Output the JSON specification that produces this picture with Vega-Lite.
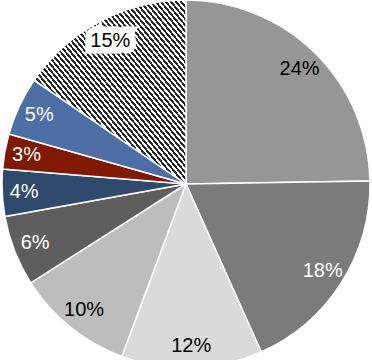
{
  "$schema": "https://vega.github.io/schema/vega-lite/v6.json",
  "width": 372,
  "height": 368,
  "padding": 0,
  "autosize": {"type": "none"},
  "background": "white",
  "config": {"view": {"stroke": null}},
  "data": {
    "values": [
      {"idx": 1, "slice": "a", "share": 24, "label": "24%"},
      {"idx": 2, "slice": "b", "share": 18, "label": "18%"},
      {"idx": 3, "slice": "c", "share": 12, "label": "12%"},
      {"idx": 4, "slice": "d", "share": 10, "label": "10%"},
      {"idx": 5, "slice": "e", "share": 6, "label": "6%"},
      {"idx": 6, "slice": "f", "share": 4, "label": "4%"},
      {"idx": 7, "slice": "g", "share": 3, "label": "3%"},
      {"idx": 8, "slice": "h", "share": 5, "label": "5%"},
      {"idx": 9, "slice": "i", "share": 15, "label": "15%"}
    ]
  },
  "encoding": {
    "theta": {"field": "share", "type": "quantitative", "stack": true},
    "order": {"field": "idx", "type": "quantitative"}
  },
  "layer": [
    {
      "mark": {"type": "arc", "outerRadius": 184, "stroke": "white", "strokeWidth": 1.5},
      "encoding": {
        "fill": {
          "condition": {
            "test": "datum.slice === 'i'",
            "value": {
              "gradient": "linear", "x1": 0, "y1": 1, "x2": 1, "y2": 0,
              "stops": [
                {"offset": 0, "color": "#ffffff"}, {"offset": 0.0083, "color": "#ffffff"}, {"offset": 0.0083, "color": "#262626"}, {"offset": 0.0167, "color": "#262626"},
                {"offset": 0.0167, "color": "#ffffff"}, {"offset": 0.025, "color": "#ffffff"}, {"offset": 0.025, "color": "#262626"}, {"offset": 0.0333, "color": "#262626"},
                {"offset": 0.0333, "color": "#ffffff"}, {"offset": 0.0417, "color": "#ffffff"}, {"offset": 0.0417, "color": "#262626"}, {"offset": 0.05, "color": "#262626"},
                {"offset": 0.05, "color": "#ffffff"}, {"offset": 0.0583, "color": "#ffffff"}, {"offset": 0.0583, "color": "#262626"}, {"offset": 0.0667, "color": "#262626"},
                {"offset": 0.0667, "color": "#ffffff"}, {"offset": 0.075, "color": "#ffffff"}, {"offset": 0.075, "color": "#262626"}, {"offset": 0.0833, "color": "#262626"},
                {"offset": 0.0833, "color": "#ffffff"}, {"offset": 0.0917, "color": "#ffffff"}, {"offset": 0.0917, "color": "#262626"}, {"offset": 0.1, "color": "#262626"},
                {"offset": 0.1, "color": "#ffffff"}, {"offset": 0.1083, "color": "#ffffff"}, {"offset": 0.1083, "color": "#262626"}, {"offset": 0.1167, "color": "#262626"},
                {"offset": 0.1167, "color": "#ffffff"}, {"offset": 0.125, "color": "#ffffff"}, {"offset": 0.125, "color": "#262626"}, {"offset": 0.1333, "color": "#262626"},
                {"offset": 0.1333, "color": "#ffffff"}, {"offset": 0.1417, "color": "#ffffff"}, {"offset": 0.1417, "color": "#262626"}, {"offset": 0.15, "color": "#262626"},
                {"offset": 0.15, "color": "#ffffff"}, {"offset": 0.1583, "color": "#ffffff"}, {"offset": 0.1583, "color": "#262626"}, {"offset": 0.1667, "color": "#262626"},
                {"offset": 0.1667, "color": "#ffffff"}, {"offset": 0.175, "color": "#ffffff"}, {"offset": 0.175, "color": "#262626"}, {"offset": 0.1833, "color": "#262626"},
                {"offset": 0.1833, "color": "#ffffff"}, {"offset": 0.1917, "color": "#ffffff"}, {"offset": 0.1917, "color": "#262626"}, {"offset": 0.2, "color": "#262626"},
                {"offset": 0.2, "color": "#ffffff"}, {"offset": 0.2083, "color": "#ffffff"}, {"offset": 0.2083, "color": "#262626"}, {"offset": 0.2167, "color": "#262626"},
                {"offset": 0.2167, "color": "#ffffff"}, {"offset": 0.225, "color": "#ffffff"}, {"offset": 0.225, "color": "#262626"}, {"offset": 0.2333, "color": "#262626"},
                {"offset": 0.2333, "color": "#ffffff"}, {"offset": 0.2417, "color": "#ffffff"}, {"offset": 0.2417, "color": "#262626"}, {"offset": 0.25, "color": "#262626"},
                {"offset": 0.25, "color": "#ffffff"}, {"offset": 0.2583, "color": "#ffffff"}, {"offset": 0.2583, "color": "#262626"}, {"offset": 0.2667, "color": "#262626"},
                {"offset": 0.2667, "color": "#ffffff"}, {"offset": 0.275, "color": "#ffffff"}, {"offset": 0.275, "color": "#262626"}, {"offset": 0.2833, "color": "#262626"},
                {"offset": 0.2833, "color": "#ffffff"}, {"offset": 0.2917, "color": "#ffffff"}, {"offset": 0.2917, "color": "#262626"}, {"offset": 0.3, "color": "#262626"},
                {"offset": 0.3, "color": "#ffffff"}, {"offset": 0.3083, "color": "#ffffff"}, {"offset": 0.3083, "color": "#262626"}, {"offset": 0.3167, "color": "#262626"},
                {"offset": 0.3167, "color": "#ffffff"}, {"offset": 0.325, "color": "#ffffff"}, {"offset": 0.325, "color": "#262626"}, {"offset": 0.3333, "color": "#262626"},
                {"offset": 0.3333, "color": "#ffffff"}, {"offset": 0.3417, "color": "#ffffff"}, {"offset": 0.3417, "color": "#262626"}, {"offset": 0.35, "color": "#262626"},
                {"offset": 0.35, "color": "#ffffff"}, {"offset": 0.3583, "color": "#ffffff"}, {"offset": 0.3583, "color": "#262626"}, {"offset": 0.3667, "color": "#262626"},
                {"offset": 0.3667, "color": "#ffffff"}, {"offset": 0.375, "color": "#ffffff"}, {"offset": 0.375, "color": "#262626"}, {"offset": 0.3833, "color": "#262626"},
                {"offset": 0.3833, "color": "#ffffff"}, {"offset": 0.3917, "color": "#ffffff"}, {"offset": 0.3917, "color": "#262626"}, {"offset": 0.4, "color": "#262626"},
                {"offset": 0.4, "color": "#ffffff"}, {"offset": 0.4083, "color": "#ffffff"}, {"offset": 0.4083, "color": "#262626"}, {"offset": 0.4167, "color": "#262626"},
                {"offset": 0.4167, "color": "#ffffff"}, {"offset": 0.425, "color": "#ffffff"}, {"offset": 0.425, "color": "#262626"}, {"offset": 0.4333, "color": "#262626"},
                {"offset": 0.4333, "color": "#ffffff"}, {"offset": 0.4417, "color": "#ffffff"}, {"offset": 0.4417, "color": "#262626"}, {"offset": 0.45, "color": "#262626"},
                {"offset": 0.45, "color": "#ffffff"}, {"offset": 0.4583, "color": "#ffffff"}, {"offset": 0.4583, "color": "#262626"}, {"offset": 0.4667, "color": "#262626"},
                {"offset": 0.4667, "color": "#ffffff"}, {"offset": 0.475, "color": "#ffffff"}, {"offset": 0.475, "color": "#262626"}, {"offset": 0.4833, "color": "#262626"},
                {"offset": 0.4833, "color": "#ffffff"}, {"offset": 0.4917, "color": "#ffffff"}, {"offset": 0.4917, "color": "#262626"}, {"offset": 0.5, "color": "#262626"},
                {"offset": 0.5, "color": "#ffffff"}, {"offset": 0.5083, "color": "#ffffff"}, {"offset": 0.5083, "color": "#262626"}, {"offset": 0.5167, "color": "#262626"},
                {"offset": 0.5167, "color": "#ffffff"}, {"offset": 0.525, "color": "#ffffff"}, {"offset": 0.525, "color": "#262626"}, {"offset": 0.5333, "color": "#262626"},
                {"offset": 0.5333, "color": "#ffffff"}, {"offset": 0.5417, "color": "#ffffff"}, {"offset": 0.5417, "color": "#262626"}, {"offset": 0.55, "color": "#262626"},
                {"offset": 0.55, "color": "#ffffff"}, {"offset": 0.5583, "color": "#ffffff"}, {"offset": 0.5583, "color": "#262626"}, {"offset": 0.5667, "color": "#262626"},
                {"offset": 0.5667, "color": "#ffffff"}, {"offset": 0.575, "color": "#ffffff"}, {"offset": 0.575, "color": "#262626"}, {"offset": 0.5833, "color": "#262626"},
                {"offset": 0.5833, "color": "#ffffff"}, {"offset": 0.5917, "color": "#ffffff"}, {"offset": 0.5917, "color": "#262626"}, {"offset": 0.6, "color": "#262626"},
                {"offset": 0.6, "color": "#ffffff"}, {"offset": 0.6083, "color": "#ffffff"}, {"offset": 0.6083, "color": "#262626"}, {"offset": 0.6167, "color": "#262626"},
                {"offset": 0.6167, "color": "#ffffff"}, {"offset": 0.625, "color": "#ffffff"}, {"offset": 0.625, "color": "#262626"}, {"offset": 0.6333, "color": "#262626"},
                {"offset": 0.6333, "color": "#ffffff"}, {"offset": 0.6417, "color": "#ffffff"}, {"offset": 0.6417, "color": "#262626"}, {"offset": 0.65, "color": "#262626"},
                {"offset": 0.65, "color": "#ffffff"}, {"offset": 0.6583, "color": "#ffffff"}, {"offset": 0.6583, "color": "#262626"}, {"offset": 0.6667, "color": "#262626"},
                {"offset": 0.6667, "color": "#ffffff"}, {"offset": 0.675, "color": "#ffffff"}, {"offset": 0.675, "color": "#262626"}, {"offset": 0.6833, "color": "#262626"},
                {"offset": 0.6833, "color": "#ffffff"}, {"offset": 0.6917, "color": "#ffffff"}, {"offset": 0.6917, "color": "#262626"}, {"offset": 0.7, "color": "#262626"},
                {"offset": 0.7, "color": "#ffffff"}, {"offset": 0.7083, "color": "#ffffff"}, {"offset": 0.7083, "color": "#262626"}, {"offset": 0.7167, "color": "#262626"},
                {"offset": 0.7167, "color": "#ffffff"}, {"offset": 0.725, "color": "#ffffff"}, {"offset": 0.725, "color": "#262626"}, {"offset": 0.7333, "color": "#262626"},
                {"offset": 0.7333, "color": "#ffffff"}, {"offset": 0.7417, "color": "#ffffff"}, {"offset": 0.7417, "color": "#262626"}, {"offset": 0.75, "color": "#262626"},
                {"offset": 0.75, "color": "#ffffff"}, {"offset": 0.7583, "color": "#ffffff"}, {"offset": 0.7583, "color": "#262626"}, {"offset": 0.7667, "color": "#262626"},
                {"offset": 0.7667, "color": "#ffffff"}, {"offset": 0.775, "color": "#ffffff"}, {"offset": 0.775, "color": "#262626"}, {"offset": 0.7833, "color": "#262626"},
                {"offset": 0.7833, "color": "#ffffff"}, {"offset": 0.7917, "color": "#ffffff"}, {"offset": 0.7917, "color": "#262626"}, {"offset": 0.8, "color": "#262626"},
                {"offset": 0.8, "color": "#ffffff"}, {"offset": 0.8083, "color": "#ffffff"}, {"offset": 0.8083, "color": "#262626"}, {"offset": 0.8167, "color": "#262626"},
                {"offset": 0.8167, "color": "#ffffff"}, {"offset": 0.825, "color": "#ffffff"}, {"offset": 0.825, "color": "#262626"}, {"offset": 0.8333, "color": "#262626"},
                {"offset": 0.8333, "color": "#ffffff"}, {"offset": 0.8417, "color": "#ffffff"}, {"offset": 0.8417, "color": "#262626"}, {"offset": 0.85, "color": "#262626"},
                {"offset": 0.85, "color": "#ffffff"}, {"offset": 0.8583, "color": "#ffffff"}, {"offset": 0.8583, "color": "#262626"}, {"offset": 0.8667, "color": "#262626"},
                {"offset": 0.8667, "color": "#ffffff"}, {"offset": 0.875, "color": "#ffffff"}, {"offset": 0.875, "color": "#262626"}, {"offset": 0.8833, "color": "#262626"},
                {"offset": 0.8833, "color": "#ffffff"}, {"offset": 0.8917, "color": "#ffffff"}, {"offset": 0.8917, "color": "#262626"}, {"offset": 0.9, "color": "#262626"},
                {"offset": 0.9, "color": "#ffffff"}, {"offset": 0.9083, "color": "#ffffff"}, {"offset": 0.9083, "color": "#262626"}, {"offset": 0.9167, "color": "#262626"},
                {"offset": 0.9167, "color": "#ffffff"}, {"offset": 0.925, "color": "#ffffff"}, {"offset": 0.925, "color": "#262626"}, {"offset": 0.9333, "color": "#262626"},
                {"offset": 0.9333, "color": "#ffffff"}, {"offset": 0.9417, "color": "#ffffff"}, {"offset": 0.9417, "color": "#262626"}, {"offset": 0.95, "color": "#262626"},
                {"offset": 0.95, "color": "#ffffff"}, {"offset": 0.9583, "color": "#ffffff"}, {"offset": 0.9583, "color": "#262626"}, {"offset": 0.9667, "color": "#262626"},
                {"offset": 0.9667, "color": "#ffffff"}, {"offset": 0.975, "color": "#ffffff"}, {"offset": 0.975, "color": "#262626"}, {"offset": 0.9833, "color": "#262626"},
                {"offset": 0.9833, "color": "#ffffff"}, {"offset": 0.9917, "color": "#ffffff"}, {"offset": 0.9917, "color": "#262626"}, {"offset": 1, "color": "#262626"}
              ]
            }
          },
          "field": "slice",
          "type": "nominal",
          "scale": {
            "domain": ["a", "b", "c", "d", "e", "f", "g", "h", "i"],
            "range": ["#969696", "#7b7b7b", "#dadada", "#bdbdbd", "#5e5e5e", "#2f4a6d", "#7f1a00", "#4e6ea6", "#ffffff"]
          },
          "legend": null
        }
      }
    },
    {
      "mark": {"type": "text", "radius": 162, "font": "Liberation Sans", "fontSize": 20, "fill": "white", "stroke": "white", "strokeWidth": 13, "strokeJoin": "miter"},
      "encoding": {
        "text": {"field": "label"},
        "opacity": {"condition": {"test": "datum.slice === 'i'", "value": 1}, "value": 0}
      }
    },
    {
      "mark": {"type": "text", "radius": 162, "font": "Liberation Sans", "fontSize": 20},
      "encoding": {
        "text": {"field": "label"},
        "color": {"condition": {"test": "indexof(['a', 'c', 'd', 'i'], datum.slice) >= 0", "value": "black"}, "value": "white"}
      }
    }
  ]
}
